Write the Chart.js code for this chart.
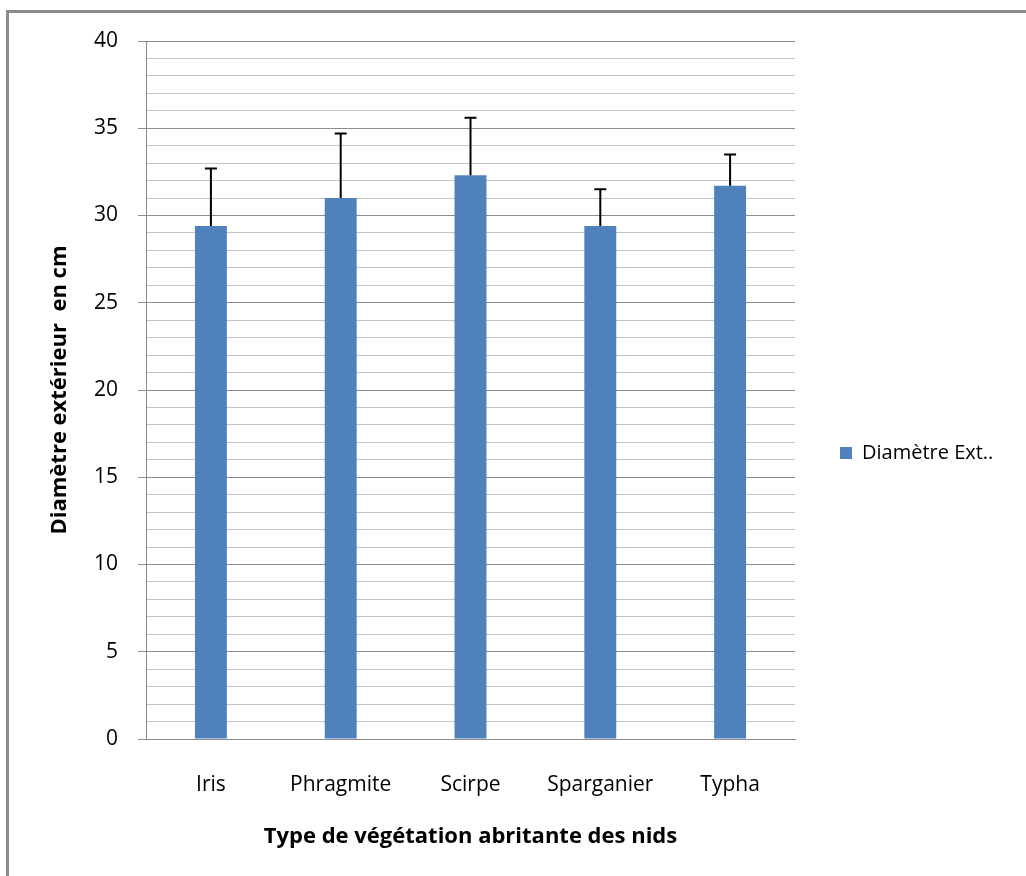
<!DOCTYPE html>
<html>
<head>
<meta charset="utf-8">
<script src="https://cdn.jsdelivr.net/npm/chart.js@4/dist/chart.umd.min.js"></script>
<style>
  html, body { margin: 0; padding: 0; background: #fff; }
  #frame {
    position: absolute; left: 6px; top: 10px;
    width: 1020px; height: 866px;
    border-left: 3px solid #8c8c8c;
    border-top: 3px solid #8c8c8c;
  }
  #box { position: absolute; left: 0; top: 0; width: 1017px; height: 863px; }
</style>
</head>
<body>
<div id="frame"><div id="box"><canvas id="myChart"></canvas></div></div>
<script>
// Diamètre extérieur moyen des nids par type de végétation
const vegetation = ['Iris', 'Phragmite', 'Scirpe', 'Sparganier', 'Typha'];
const diametre = [29.4, 31.0, 32.3, 29.4, 31.7];
const ecartType = [3.3, 3.7, 3.3, 2.1, 1.8];
const yMin = 0, yMax = 40, yStep = 1, yLabelStep = 5;

const font = 'Open Sans';

// error bars (upper only) drawn through the y scale
const errorBars = {
    id: 'errorBars',
    afterDatasetsDraw(chart) {
        const ctx = chart.ctx;
        const yScale = chart.scales.y;
        const meta = chart.getDatasetMeta(0);
        ctx.save();
        ctx.strokeStyle = '#000';
        ctx.lineWidth = 2;
        meta.data.forEach((bar, i) => {
            const top = yScale.getPixelForValue(diametre[i] + ecartType[i]);
            ctx.beginPath();
            ctx.moveTo(bar.x, bar.y);
            ctx.lineTo(bar.x, top);
            ctx.moveTo(bar.x - 6, top);
            ctx.lineTo(bar.x + 6, top);
            ctx.stroke();
        });
        ctx.restore();
    }
};

// fixed legend width so the plot area lines up
const legendWidth = {
    id: 'legendWidth',
    beforeLayout(chart) {
        const lg = chart.legend;
        if (lg && !lg._fixed) {
            const fit = lg.fit.bind(lg);
            lg.fit = function () { fit(); this.width = 231; };
            lg._fixed = true;
        }
    }
};

const isMajor = v => v % yLabelStep === 0;

var ctx = document.getElementById('myChart').getContext('2d');
const myChart = new Chart(ctx, {
    type: 'bar',
    data: {
        labels: vegetation,
        datasets: [{
            label: 'Diamètre Ext..',
            data: diametre,
            backgroundColor: '#4f81bd',
            categoryPercentage: 1,
            barPercentage: 0.246
        }]
    },
    plugins: [errorBars, legendWidth],
    options: {
        responsive: true,
        maintainAspectRatio: false,
        animation: false,
        layout: { padding: { top: 28, bottom: 11, left: 0, right: 0 } },
        plugins: {
            legend: {
                position: 'right',
                labels: {
                    boxWidth: 12,
                    boxHeight: 12,
                    padding: 45,
                    color: '#000',
                    font: { family: font, size: 20 }
                }
            },
            tooltip: { enabled: false }
        },
        scales: {
            x: {
                grid: { display: false },
                border: { display: true, color: '#8c8c8c', width: 1 },
                ticks: {
                    color: '#000',
                    padding: 25,
                    font: { family: font, size: 21 }
                },
                title: {
                    display: true,
                    text: 'Type de végétation abritante des nids',
                    color: '#000',
                    font: { family: font, size: 22, weight: 'bold' },
                    padding: { top: 0, bottom: 15 }
                },
                afterFit(scale) { scale.height = 126; }
            },
            y: {
                min: yMin,
                max: yMax,
                border: { display: true, color: '#8c8c8c', width: 1 },
                grid: {
                    color: c => isMajor(c.tick.value) ? '#8c8c8c' : '#c4c4c4',
                    tickColor: c => isMajor(c.tick.value) ? '#8c8c8c' : 'rgba(0,0,0,0)',
                    tickLength: 8,
                    lineWidth: 1
                },
                ticks: {
                    stepSize: yStep,
                    autoSkip: false,
                    color: '#000',
                    padding: 20,
                    font: { family: font, size: 21 },
                    callback: v => isMajor(v) ? v : ''
                },
                title: {
                    display: true,
                    text: 'Diamètre extérieur  en cm',
                    color: '#000',
                    font: { family: font, size: 22, weight: 'bold' },
                    padding: { top: 38, bottom: 0 }
                },
                afterFit(scale) {
                    scale.width = 137;
                    scale.paddingTop = 12;
                    scale.paddingBottom = 12;
                }
            }
        }
    }
});
</script>
</body>
</html>
